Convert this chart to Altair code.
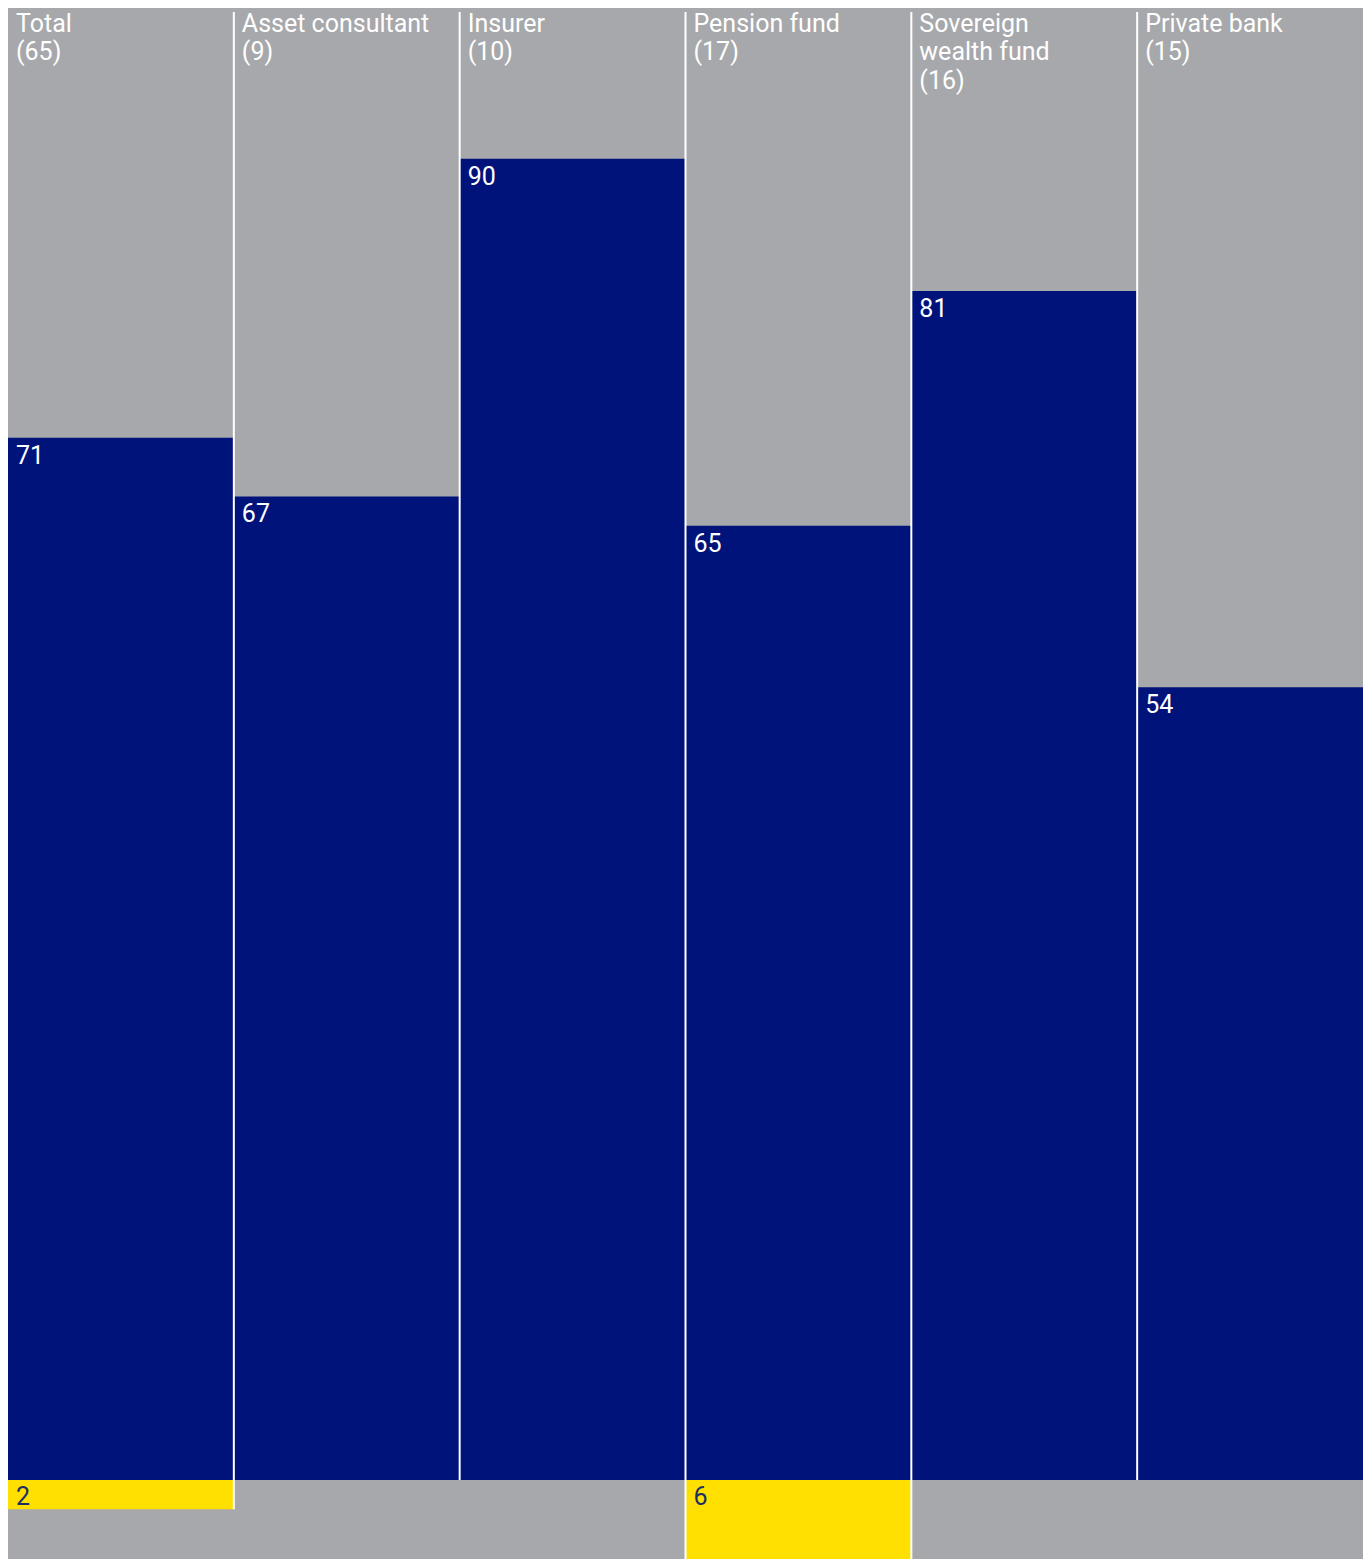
import altair as alt
import pandas as pd

# ---- data ----
categories = [
    "Total\n(65)",
    "Asset consultant\n(9)",
    "Insurer\n(10)",
    "Pension fund\n(17)",
    "Sovereign\nwealth fund\n(16)",
    "Private bank\n(15)",
]
navy_values = [71, 67, 90, 65, 81, 54]      # share shown in dark blue
yellow_values = [2, 0, 0, 6, 0, 0]          # share shown in yellow (below the baseline)

GREY = "#A7A8AB"
NAVY = "#00137A"
YELLOW = "#FFE000"
YELLOW_TEXT = "#1D2F66"
FONT = "Roboto"

n = len(categories)
df = pd.DataFrame({
    "category": categories,
    "x0": list(range(n)),
    "x1": [i + 1 for i in range(n)],
    "navy": navy_values,
    "yellow": yellow_values,
    "yellow_neg": [-v for v in yellow_values],
    "zero": [0] * n,
    "top": [100] * n,
    "navy_label": [str(v) for v in navy_values],
    "yellow_label": [str(v) for v in yellow_values],
})

# separators between neighbouring columns run down to the deeper of the two stacks
bounds = pd.DataFrame({
    "bx": list(range(1, n)),
    "top": [100] * (n - 1),
    "bottom": [-max(yellow_values[i - 1], yellow_values[i]) for i in range(1, n)],
})

xscale = alt.Scale(domain=[0, n], nice=False, zero=False)
yscale = alt.Scale(domain=[-5.381, 100.272], nice=False, zero=False)

base = alt.Chart(df)

navy_bars = base.mark_rect(color=NAVY, clip=True).encode(
    x=alt.X("x0:Q", scale=xscale, axis=None),
    x2="x1:Q",
    y=alt.Y("zero:Q", scale=yscale, axis=None),
    y2="navy:Q",
)

yellow_bars = base.transform_filter("datum.yellow > 0").mark_rect(color=YELLOW, clip=True).encode(
    x=alt.X("x0:Q", scale=xscale, axis=None),
    x2="x1:Q",
    y=alt.Y("zero:Q", scale=yscale, axis=None),
    y2="yellow_neg:Q",
)

separators = alt.Chart(bounds).mark_rule(color="white", strokeWidth=2, clip=True).encode(
    x=alt.X("bx:Q", scale=xscale, axis=None),
    y=alt.Y("top:Q", scale=yscale, axis=None),
    y2="bottom:Q",
)

headers = base.mark_text(
    align="left", baseline="top", dx=8, dy=0, color="white",
    font=FONT, fontSize=25, lineBreak="\n", lineHeight=28.5,
).encode(
    x=alt.X("x0:Q", scale=xscale, axis=None),
    y=alt.Y("top:Q", scale=yscale, axis=None),
    text="category:N",
)

navy_labels = base.mark_text(
    align="left", baseline="top", dx=8, dy=6, color="white",
    font=FONT, fontSize=25,
).encode(
    x=alt.X("x0:Q", scale=xscale, axis=None),
    y=alt.Y("navy:Q", scale=yscale, axis=None),
    text="navy_label:N",
)

yellow_labels = base.transform_filter("datum.yellow > 0").mark_text(
    align="left", baseline="top", dx=8, dy=5, color=YELLOW_TEXT,
    font=FONT, fontSize=25,
).encode(
    x=alt.X("x0:Q", scale=xscale, axis=None),
    y=alt.Y("zero:Q", scale=yscale, axis=None),
    text="yellow_label:N",
)

chart = alt.layer(
    navy_bars, yellow_bars, separators, headers, navy_labels, yellow_labels
).properties(
    width=1355, height=1551, padding=0, background=GREY,
).configure_view(stroke=None, fill=GREY)

chart.save("out.html", embed_options={"renderer": "svg", "actions": False})
